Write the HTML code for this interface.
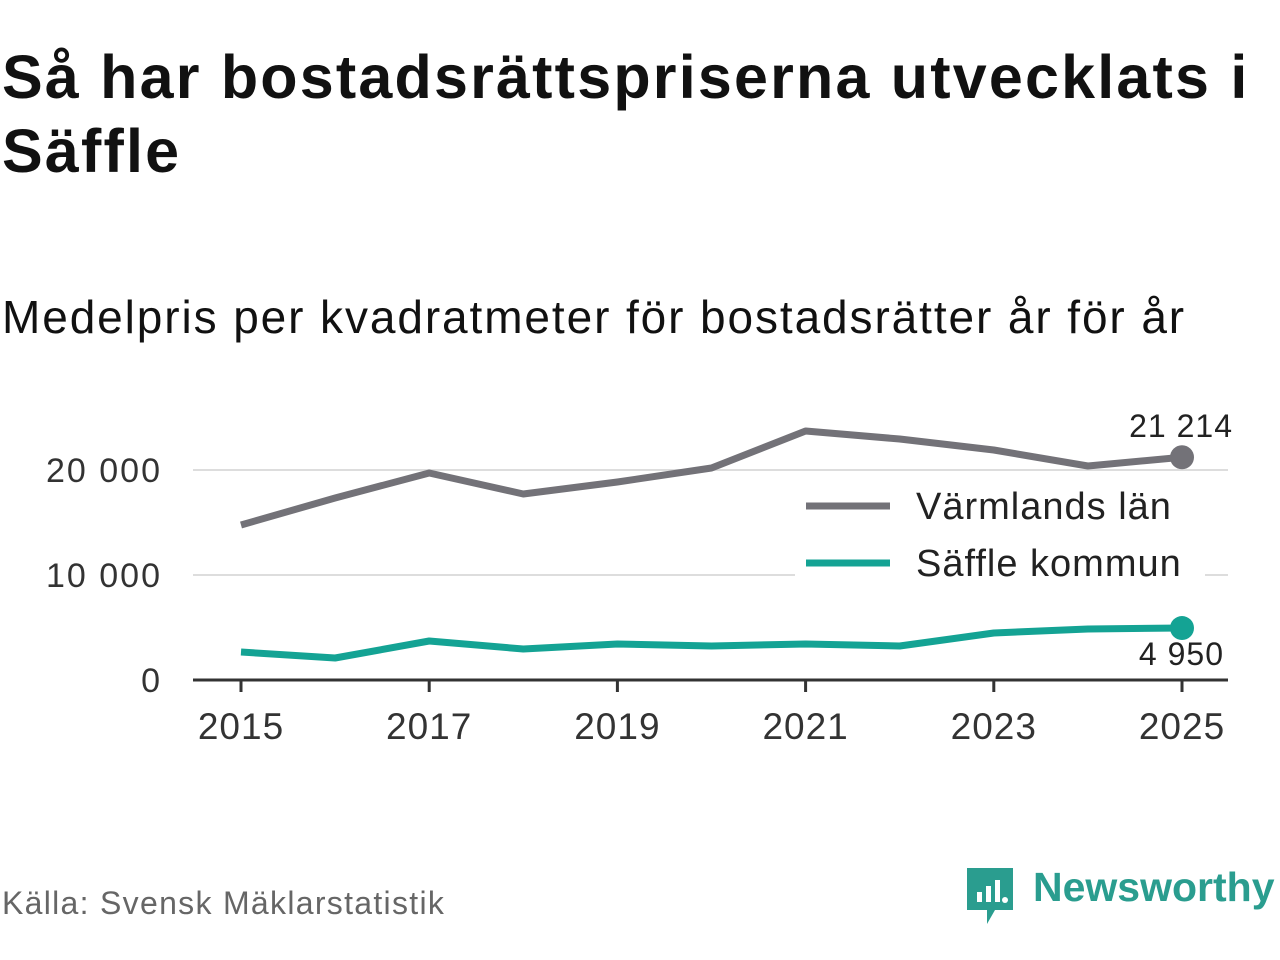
<!DOCTYPE html>
<html><head><meta charset="utf-8"><style>
body{margin:0;width:1280px;height:960px;background:#fff;font-family:"Liberation Sans",sans-serif;overflow:hidden;position:relative}
#title{position:absolute;left:2px;top:40px;font-size:61px;font-weight:bold;line-height:74px;color:#111;letter-spacing:2.2px;white-space:nowrap}
#sub{position:absolute;left:2px;top:290px;font-size:46px;color:#111;letter-spacing:1.9px;white-space:nowrap}
#src{position:absolute;left:2px;top:885px;font-size:32px;color:#666;letter-spacing:1.3px}
</style></head><body>
<div id="title">Så har bostadsrättspriserna utvecklats i<br>Säffle</div>
<div id="sub">Medelpris per kvadratmeter för bostadsrätter år för år</div>
<svg id="chart" width="1280" height="960" style="position:absolute;left:0;top:0"></svg>
<div id="src">Källa: Svensk Mäklarstatistik</div>
<div style="position:absolute;left:965px;top:866px">
<svg width="50" height="60"><path d="M2 2h46v42H30l-8 14v-14H2z" fill="#2a9d8f"/><rect x="12" y="26" width="5" height="10" fill="#fff"/><rect x="21" y="20" width="5" height="16" fill="#fff"/><rect x="30" y="14" width="5" height="22" fill="#fff"/><circle cx="40" cy="34" r="3" fill="#fff"/></svg>
<span style="position:absolute;left:68px;top:-2px;font-size:41px;font-weight:bold;color:#2a9d8f;white-space:nowrap">Newsworthy</span></div>
<script>
const years=[2015,2016,2017,2018,2019,2020,2021,2022,2023,2024,2025];
const lan=[14762,17333,19714,17714,18857,20190,23714,22952,21905,20381,21214];
const kommun=[2667,2095,3714,2952,3429,3238,3429,3238,4476,4857,4950];
const yTicks=[0,10000,20000];
const yTickLabels=["0","10 000","20 000"];
const xTicks=[2015,2017,2019,2021,2023,2025];
const svg=document.getElementById('chart');const NS="http://www.w3.org/2000/svg";
const x=v=>241+(v-2015)*94.1;const y=v=>680-v*0.0105;
function mk(t,a,p){const e=document.createElementNS(NS,t);for(const k in a)e.setAttribute(k,a[k]);(p||svg).appendChild(e);return e;}
yTicks.forEach((t,i)=>{
 if(t>0){const g=mk('line',{x1:193,x2:1228,y1:y(t),y2:y(t),stroke:'#ddd','stroke-width':2});
 
 }
 const l=mk('text',{x:162,y:y(t)+12,'text-anchor':'end','font-size':34,fill:'#333','letter-spacing':2});l.textContent=yTickLabels[i];
 
 
});
const ax=mk('line',{x1:193,x2:1228,y1:680,y2:680,stroke:'#333','stroke-width':3});


xTicks.forEach(t=>{mk('line',{x1:x(t),x2:x(t),y1:680,y2:692,stroke:'#333','stroke-width':3});
 const l=mk('text',{x:x(t),y:739,'text-anchor':'middle','font-size':37,fill:'#333','letter-spacing':1});l.textContent=t;
 
 });
function series(vals,col,name){
 const p=mk('polyline',{points:vals.map((v,i)=>x(years[i])+','+y(v)).join(' '),fill:'none',stroke:col,'stroke-width':7,'stroke-linejoin':'round'});
 
 
 const c=mk('circle',{cx:x(years[10]),cy:y(vals[10]),r:12,fill:col});
 
 
}
series(lan,'#737278','line-varmlands-lan');
series(kommun,'#14a394','line-saffle-kommun');
let t=mk('text',{x:1233,y:437,'text-anchor':'end','font-size':32,fill:'#222','letter-spacing':1});t.textContent=lan[10].toLocaleString('sv-SE').replace(/\s/g,' ');


t=mk('text',{x:1224,y:665,'text-anchor':'end','font-size':32,fill:'#222','letter-spacing':1});t.textContent=kommun[10].toLocaleString('sv-SE').replace(/\s/g,' ');


mk('rect',{x:795,y:480,width:410,height:100,fill:'#fff'});
[['Värmlands län','#737278',506],['Säffle kommun','#14a394',563]].forEach(d=>{
 const g=mk('g',{});
 
 
 mk('line',{x1:806,x2:890,y1:d[2],y2:d[2],stroke:d[1],'stroke-width':7},g);
 const l=mk('text',{x:916,y:d[2]+13,'font-size':38,fill:'#222','letter-spacing':1},g);l.textContent=d[0];
});
</script>
</body></html>
